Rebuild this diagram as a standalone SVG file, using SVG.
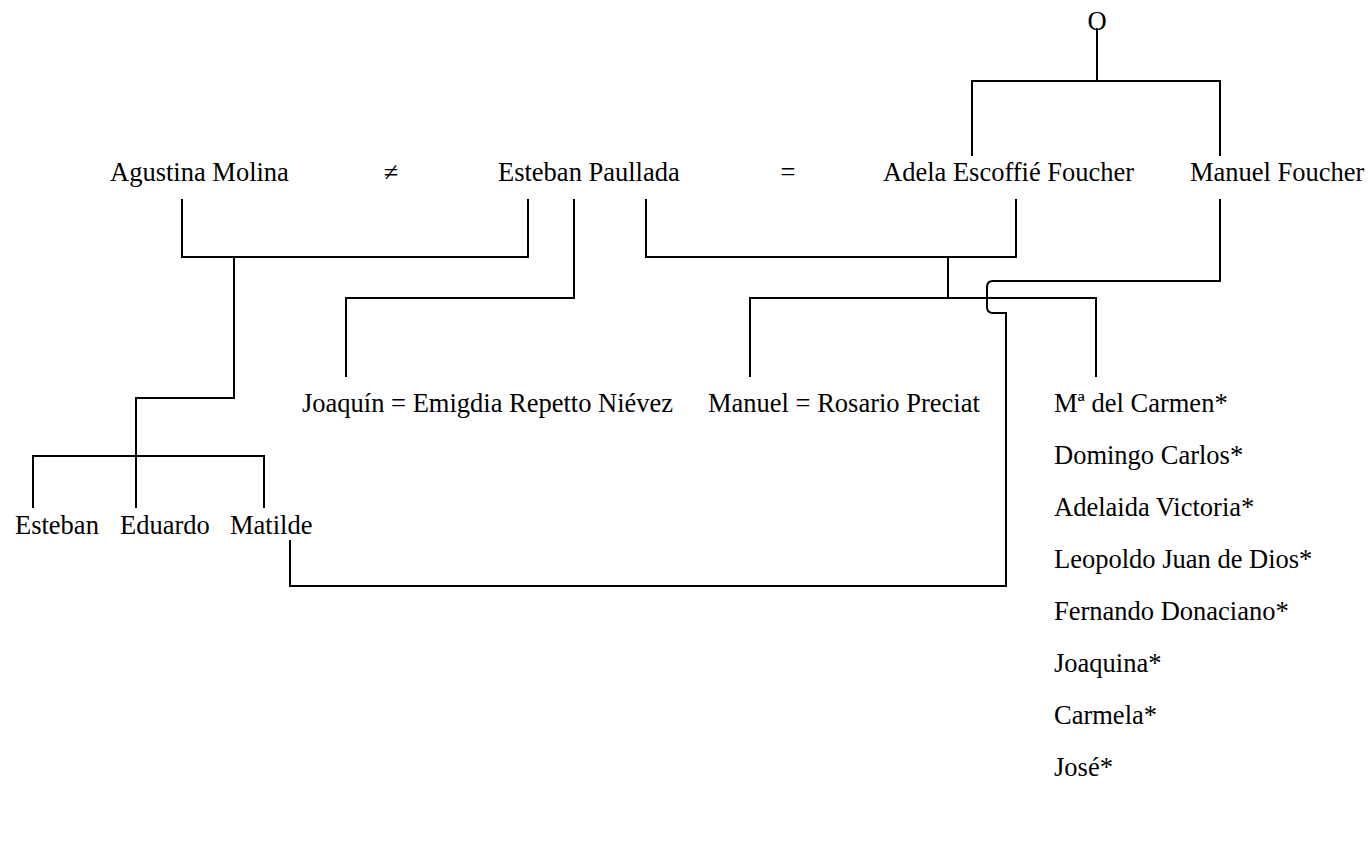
<svg xmlns="http://www.w3.org/2000/svg" width="1369" height="846" viewBox="0 0 1369 846">
<style>
  text { font-family: "Liberation Serif", "Times New Roman", serif; font-size: 26.5px; fill: #000; }
  .ln { fill: none; stroke: #000; stroke-width: 2; }
</style>
<rect width="1369" height="846" fill="#fff"/>
<g id="connectors">
  <path class="ln" d="M1097,28 V81"/>
  <path class="ln" d="M972,156 V81 H1220 V156"/>
  <path class="ln" d="M182,199 V257 H528 V199"/>
  <path class="ln" d="M234,257 V398 H136 V508"/>
  <path class="ln" d="M33,508 V456 H264 V508"/>
  <path class="ln" d="M574,199 V298 H346 V377"/>
  <path class="ln" d="M646,199 V257 H1016 V199"/>
  <path class="ln" d="M948,257 V298"/>
  <path class="ln" d="M750,377 V298 H1096 V377"/>
  <path class="ln" d="M1220,199 V281 H993 Q987,281 987,287 V307 Q987,313 993,313 H1006 V586 H290 V540"/>
</g>
<g id="node-origin"><text x="1097" y="30" text-anchor="middle">O</text></g>
<g id="node-agustina"><text x="110" y="181">Agustina Molina</text></g>
<g id="sym-neq"><text x="391" y="181" text-anchor="middle">≠</text></g>
<g id="node-esteban-paullada"><text x="498" y="181">Esteban Paullada</text></g>
<g id="sym-eq"><text x="788" y="181" text-anchor="middle">=</text></g>
<g id="node-adela"><text x="883" y="181">Adela Escoffié Foucher</text></g>
<g id="node-manuel-foucher"><text x="1190" y="181">Manuel Foucher</text></g>
<g id="node-joaquin"><text x="302" y="412">Joaquín = Emigdia Repetto Niévez</text></g>
<g id="node-manuel"><text x="708" y="412">Manuel = Rosario Preciat</text></g>
<g id="node-esteban"><text x="15" y="534">Esteban</text></g>
<g id="node-eduardo"><text x="120" y="534">Eduardo</text></g>
<g id="node-matilde"><text x="230" y="534">Matilde</text></g>
<g id="node-children-list">
  <text x="1054" y="412">Mª del Carmen*</text>
  <text x="1054" y="464">Domingo Carlos*</text>
  <text x="1054" y="516">Adelaida Victoria*</text>
  <text x="1054" y="568">Leopoldo Juan de Dios*</text>
  <text x="1054" y="620">Fernando Donaciano*</text>
  <text x="1054" y="672">Joaquina*</text>
  <text x="1054" y="724">Carmela*</text>
  <text x="1054" y="776">José*</text>
</g>
</svg>
